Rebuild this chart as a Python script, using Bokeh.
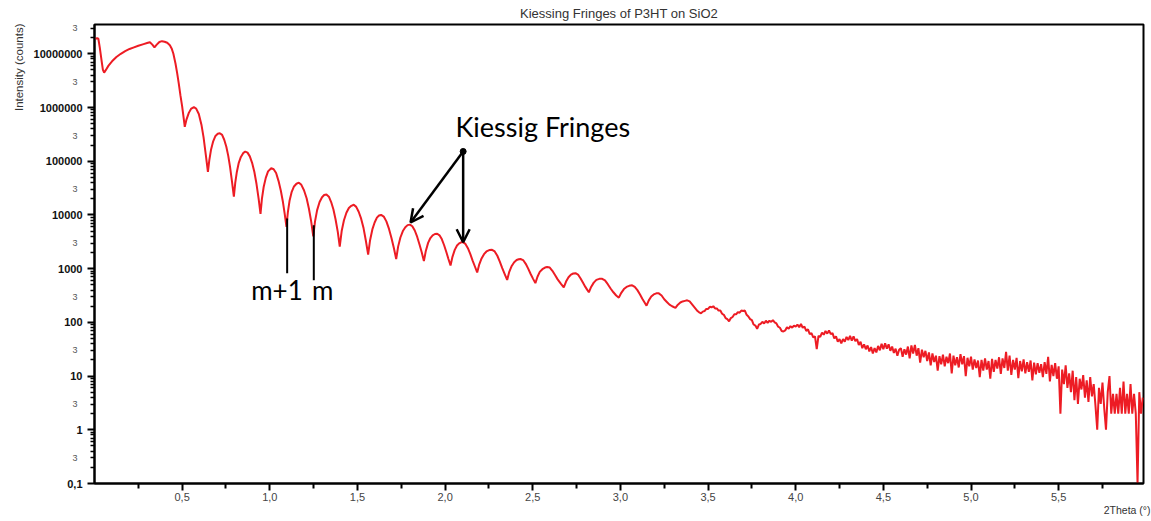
import numpy as np
from bokeh.plotting import figure
from bokeh.models import (FixedTicker, CustomJSTickFormatter, Label, Arrow, OpenHead,
                          Title, LogAxis)
from bokeh.embed import file_html
from bokeh.resources import INLINE

# ---------------- texts & ticks ----------------
title_text = "Kiessing Fringes of P3HT on SiO2"
x_title = "2Theta (°)"
y_title = "Intensity (counts)"
x_major_ticks = [0.5, 1.0, 1.5, 2.0, 2.5, 3.0, 3.5, 4.0, 4.5, 5.0, 5.5]
x_minor_ticks = [0.25, 0.75, 1.25, 1.75, 2.25, 2.75, 3.25, 3.75, 4.25, 4.75, 5.25, 5.75]
y_major_ticks = [0.1, 1, 10, 100, 1000, 10000, 100000, 1000000, 10000000]
y_three_ticks = [0.3, 3, 30, 300, 3000, 30000, 300000, 3000000, 30000000]
y_minor_ticks = [k * 10.0 ** n for n in range(-1, 8) for k in range(2, 10)]

# ---------------- data (log10 of counts) ----------------
smooth_2theta = [
    0.005, 0.015, 0.022, 0.030, 0.040, 0.048, 0.055, 0.065, 0.080, 0.100,
    0.125, 0.150, 0.175, 0.200, 0.225, 0.250, 0.280, 0.300, 0.316, 0.330,
    0.342, 0.355, 0.370, 0.385, 0.400, 0.415, 0.430, 0.440, 0.450, 0.462,
    0.472, 0.481, 0.490, 0.500, 0.508, 0.515,
    0.525, 0.538, 0.552, 0.567, 0.580, 0.595, 0.610, 0.622, 0.635, 0.647,
    0.655, 0.665, 0.677, 0.690, 0.703, 0.715, 0.728, 0.740, 0.752, 0.763, 0.773, 0.784, 0.795,
    0.803, 0.812, 0.823, 0.835, 0.848, 0.860, 0.873, 0.886, 0.899, 0.912, 0.924, 0.936, 0.947,
    0.955, 0.965, 0.977, 0.990, 1.008, 1.022, 1.036, 1.050, 1.063, 1.075, 1.085, 1.095,
    1.103, 1.113, 1.125, 1.138, 1.152, 1.166, 1.180, 1.195, 1.210, 1.223, 1.236, 1.248,
    1.258, 1.270, 1.284, 1.298, 1.310, 1.323, 1.337, 1.350, 1.363, 1.375, 1.388, 1.399,
    1.410, 1.423, 1.437, 1.451, 1.465, 1.479, 1.493, 1.507, 1.521, 1.535, 1.548, 1.561,
    1.572, 1.585, 1.598, 1.611, 1.623, 1.635, 1.650, 1.665, 1.680, 1.694, 1.708, 1.721,
    1.732, 1.745, 1.759, 1.773, 1.786, 1.799, 1.813, 1.827, 1.841, 1.854, 1.867, 1.879,
    1.890, 1.903, 1.916, 1.929, 1.942, 1.955, 1.968, 1.981, 1.994, 2.007, 2.019, 2.031,
    2.042, 2.055, 2.068, 2.080, 2.092, 2.103, 2.116, 2.130, 2.144, 2.157, 2.170, 2.183,
    2.195, 2.208, 2.222, 2.236, 2.252, 2.268, 2.283, 2.298, 2.312, 2.326, 2.340, 2.354,
    2.366, 2.380, 2.394, 2.408, 2.420, 2.430, 2.445, 2.460, 2.474, 2.488, 2.502, 2.515,
    2.527, 2.540, 2.555, 2.570, 2.582, 2.597, 2.612, 2.627, 2.642, 2.660, 2.677,
    2.690, 2.704, 2.718, 2.731, 2.744, 2.758, 2.772, 2.786, 2.800, 2.810, 2.820,
    2.833, 2.848, 2.863, 2.880, 2.896, 2.912, 2.928, 2.944, 2.960, 2.976, 2.991,
    3.005, 3.020, 3.035, 3.050, 3.067, 3.082, 3.097, 3.112, 3.125, 3.138, 3.149,
    3.162, 3.176, 3.190, 3.205, 3.219, 3.235, 3.250, 3.265, 3.280, 3.295, 3.314,
    3.328, 3.342, 3.355, 3.368, 3.381, 3.395, 3.410, 3.425, 3.440, 3.452,
]
smooth_log_counts = [
    7.28, 7.29, 7.28, 7.12, 6.88, 6.70, 6.65, 6.70, 6.78, 6.86,
    6.94, 7.00, 7.05, 7.09, 7.12, 7.15, 7.18, 7.20, 7.215, 7.17,
    7.12, 7.17, 7.22, 7.235, 7.225, 7.205, 7.16, 7.10, 7.00, 6.82,
    6.63, 6.44, 6.23, 6.02, 5.82, 5.64,
    5.78, 5.90, 5.98, 6.005, 5.98, 5.88, 5.68, 5.45, 5.12, 4.80,
    5.02, 5.22, 5.37, 5.47, 5.51, 5.52, 5.49, 5.40, 5.27, 5.10, 4.90, 4.63, 4.34,
    4.60, 4.80, 4.97, 5.08, 5.15, 5.18, 5.16, 5.09, 4.97, 4.80, 4.58, 4.31, 4.02,
    4.30, 4.52, 4.69, 4.81, 4.87, 4.85, 4.78, 4.63, 4.45, 4.24, 4.02, 3.78,
    4.05, 4.27, 4.43, 4.53, 4.58, 4.60, 4.56, 4.46, 4.31, 4.12, 3.88, 3.60,
    3.88, 4.09, 4.24, 4.33, 4.37, 4.38, 4.34, 4.24, 4.10, 3.92, 3.68, 3.41,
    3.70, 3.90, 4.04, 4.13, 4.17, 4.19, 4.15, 4.06, 3.93, 3.75, 3.52, 3.26,
    3.53, 3.73, 3.86, 3.95, 3.99, 4.00, 3.97, 3.88, 3.74, 3.57, 3.38, 3.18,
    3.41, 3.58, 3.70, 3.77, 3.81, 3.82, 3.79, 3.71, 3.59, 3.45, 3.30, 3.14,
    3.33, 3.48, 3.57, 3.62, 3.645, 3.65, 3.62, 3.55, 3.44, 3.31, 3.18, 3.06,
    3.22, 3.35, 3.43, 3.47, 3.49, 3.49, 3.46, 3.38, 3.27, 3.15, 3.04, 2.93,
    3.08, 3.19, 3.27, 3.32, 3.345, 3.35, 3.32, 3.24, 3.13, 3.01, 2.90, 2.79,
    2.94, 3.05, 3.12, 3.16, 3.175, 3.18, 3.16, 3.09, 3.00, 2.90, 2.81, 2.73,
    2.85, 2.94, 2.99, 3.02, 3.03, 3.02, 2.96, 2.88, 2.80, 2.72, 2.65,
    2.76, 2.84, 2.89, 2.91, 2.915, 2.89, 2.82, 2.74, 2.66, 2.61, 2.56,
    2.66, 2.74, 2.79, 2.81, 2.81, 2.78, 2.71, 2.63, 2.56, 2.50, 2.46,
    2.55, 2.62, 2.66, 2.68, 2.69, 2.66, 2.60, 2.52, 2.44, 2.37, 2.31,
    2.41, 2.48, 2.52, 2.54, 2.54, 2.50, 2.43, 2.38, 2.33, 2.30, 2.27,
    2.33, 2.37, 2.39, 2.40, 2.41, 2.39, 2.33, 2.27, 2.21, 2.18,
]
# noisy tail, sampled every 0.01 deg from 3.46 deg
tail_start = 3.46
tail_step = 0.01
tail_log_counts = [
    2.17, 2.20, 2.21, 2.25, 2.25, 2.29, 2.28, 2.30, 2.26, 2.26,
    2.22, 2.22, 2.16, 2.14, 2.08, 2.06, 2.02, 2.08, 2.10, 2.15,
    2.15, 2.19, 2.18, 2.22, 2.21, 2.22, 2.14, 2.11, 2.06, 2.04,
    1.96, 1.94, 1.88, 1.96, 1.97, 2.01, 1.98, 2.03, 1.99, 2.03,
    2.01, 2.04, 2.00, 1.98, 1.92, 1.90, 1.84, 1.83, 1.85, 1.91,
    1.88, 1.93, 1.90, 1.94,
    1.92, 1.96, 1.91, 1.97, 1.90, 1.92, 1.84, 1.87, 1.78, 1.80,
    1.72, 1.74, 1.50, 1.75, 1.73, 1.81, 1.77, 1.84, 1.79, 1.85,
    1.78, 1.80, 1.70, 1.74, 1.64, 1.69, 1.61, 1.69, 1.64, 1.73,
    1.67, 1.75, 1.66, 1.74, 1.65, 1.69, 1.58, 1.64, 1.52, 1.59,
    1.50, 1.57, 1.46, 1.54, 1.42, 1.52, 1.44, 1.56, 1.48, 1.60,
    1.50, 1.61, 1.51, 1.59, 1.47, 1.55, 1.43, 1.51, 1.38, 1.49,
    1.52, 1.36, 1.50, 1.40, 1.55, 1.33, 1.57, 1.42, 1.58, 1.38,
    1.52, 1.25, 1.49, 1.35, 1.47, 1.28, 1.44, 1.20, 1.42, 1.26,
    1.38, 1.10, 1.37, 1.22, 1.40, 1.18, 1.36, 1.24, 1.42, 1.05,
    1.38, 1.20, 1.35, 1.16, 1.41, 1.22, 1.37, 1.00, 1.34, 1.18,
    1.36, 1.12, 1.31, 1.15, 1.29, 0.98, 1.30, 1.10, 1.33, 1.12,
    1.28, 0.95, 1.32, 1.08, 1.30, 1.14, 1.35, 1.04, 1.33, 1.15,
    1.45, 1.10, 1.38, 1.02, 1.30, 1.12, 1.34, 0.96, 1.28, 1.09,
    1.31, 1.05, 1.26, 1.08, 1.29, 0.92, 1.25, 1.03, 1.24, 1.06,
    1.22, 0.98, 1.26, 1.04, 1.36, 0.90, 1.21, 1.00, 1.24, 0.95,
    1.18, 0.30, 1.12, 0.85, 1.20, 0.78, 1.05, 0.70, 1.10, 0.55,
    0.98, 0.48, 0.95, 0.75, 1.02, 0.60, 0.92, 0.52, 0.98, 0.62,
    0.85, 0.45, 0.00, 0.78, 0.48, 0.88, 0.40, 0.00, 0.70, 1.00,
    0.30, 0.67, 0.30, 0.67, 0.30, 0.78, 0.30, 0.90, 0.30, 0.67,
    0.30, 0.85, 0.30, 0.67, 0.30, -1.00, 0.70, 0.30, 0.60,
]

tail_2theta = [round(tail_start + i * tail_step, 3) for i in range(len(tail_log_counts))]
two_theta = list(smooth_2theta) + tail_2theta
counts = (10.0 ** np.array(list(smooth_log_counts) + tail_log_counts)).tolist()

FONT = "Liberation Sans"

# ---------------- figure ----------------
p = figure(
    width=1151, height=521,
    x_range=(0, 5.984), y_range=(0.1, 3.51e7), y_axis_type="log",
    output_backend="svg", toolbar_location=None,
    min_border_left=94, min_border_right=8, min_border_top=24, min_border_bottom=38,
    background_fill_color="white", border_fill_color="white",
)
p.title.text = title_text
p.title.align = "center"
p.title.text_font = FONT
p.title.text_font_size = "13px"
p.title.text_font_style = "normal"
p.title.text_color = "#333333"
p.title.standoff = 7

p.xgrid.visible = False
p.ygrid.visible = False
p.outline_line_color = "black"
p.outline_line_width = 2
p.outline_line_alpha = 1

# x axis
p.xaxis.ticker = FixedTicker(ticks=x_major_ticks, minor_ticks=x_minor_ticks)
p.xaxis.formatter = CustomJSTickFormatter(code='return tick.toFixed(1).replace(".", ",");')
p.xaxis.axis_line_width = 2
p.xaxis.axis_line_color = "black"
p.xaxis.major_tick_in = 0
p.xaxis.major_tick_out = 7
p.xaxis.minor_tick_in = 0
p.xaxis.minor_tick_out = 5
p.xaxis.major_tick_line_width = 2
p.xaxis.minor_tick_line_width = 2
p.xaxis.major_label_text_font = FONT
p.xaxis.major_label_text_font_size = "11px"
p.xaxis.major_label_text_color = "#444444"
p.xaxis.major_label_standoff = 2

# y axis
p.yaxis.ticker = FixedTicker(ticks=y_major_ticks, minor_ticks=y_minor_ticks)
p.yaxis.formatter = CustomJSTickFormatter(code='return tick < 0.5 ? "0,1" : tick.toFixed(0);')
p.yaxis.axis_line_width = 2
p.yaxis.axis_line_color = "black"
p.yaxis.major_tick_in = 0
p.yaxis.major_tick_out = 7
p.yaxis.minor_tick_in = 0
p.yaxis.minor_tick_out = 4
p.yaxis.major_tick_line_width = 2
p.yaxis.minor_tick_line_width = 1.5
p.yaxis.major_label_text_font = FONT
p.yaxis.major_label_text_font_size = "11px"
p.yaxis.major_label_text_font_style = "bold"
p.yaxis.major_label_text_color = "#111111"
p.yaxis.major_label_standoff = 5

# axis titles (as side titles so they can sit outside the frame)
p.add_layout(Title(text=y_title, align="right", offset=-1, standoff=12,
                   text_font=FONT, text_font_size="11.5px", text_font_style="normal",
                   text_color="#333333"), "left")
p.add_layout(Title(text=x_title, align="right", offset=-7, standoff=0,
                   vertical_align="top",
                   text_font=FONT, text_font_size="10.5px", text_font_style="normal",
                   text_color="#333333"), "below")

# extra outer axis carrying the small grey "3" labels, pulled back next to the main labels
axis3 = LogAxis(ticker=FixedTicker(ticks=y_three_ticks),
                formatter=CustomJSTickFormatter(code='return "3";'),
                axis_line_color=None, major_tick_line_color=None, minor_tick_line_color=None,
                major_tick_out=0, major_tick_in=0, minor_tick_out=0, minor_tick_in=0,
                major_label_standoff=-73, major_label_text_font=FONT,
                major_label_text_font_size="9px", major_label_text_color="#555555")
p.add_layout(axis3, "left")

# data
p.line(two_theta, counts, line_color="#ED1C24", line_width=2)

# annotations
ann_font = "Lato"
p.add_layout(Label(x=2.059, y=4.44e5, text="Kiessig Fringes", text_baseline="alphabetic",
                   text_font=ann_font, text_font_size="27px", text_color="black"))
p.add_layout(Arrow(x_start=2.103, y_start=1.52e5, x_end=1.803, y_end=7230,
                   line_color="black", line_width=2.5,
                   end=OpenHead(size=13, line_width=2.5, line_color="black")))
p.add_layout(Arrow(x_start=2.103, y_start=1.52e5, x_end=2.103, y_end=3100,
                   line_color="black", line_width=2.5,
                   end=OpenHead(size=13, line_width=2.5, line_color="black")))
p.scatter([2.103], [1.52e5], size=6, color="black")

p.segment(x0=[1.099, 1.251], y0=[8570, 6400], x1=[1.099, 1.251], y1=[818, 605],
          line_color="black", line_width=2)
p.add_layout(Label(x=0.894, y=394, text="m+1", text_baseline="alphabetic",
                   text_font=ann_font, text_font_size="26px", text_color="black"))
p.add_layout(Label(x=1.241, y=394, text="m", text_baseline="alphabetic",
                   text_font=ann_font, text_font_size="26px", text_color="black"))

open("out.html", "w").write(file_html(p, INLINE))
